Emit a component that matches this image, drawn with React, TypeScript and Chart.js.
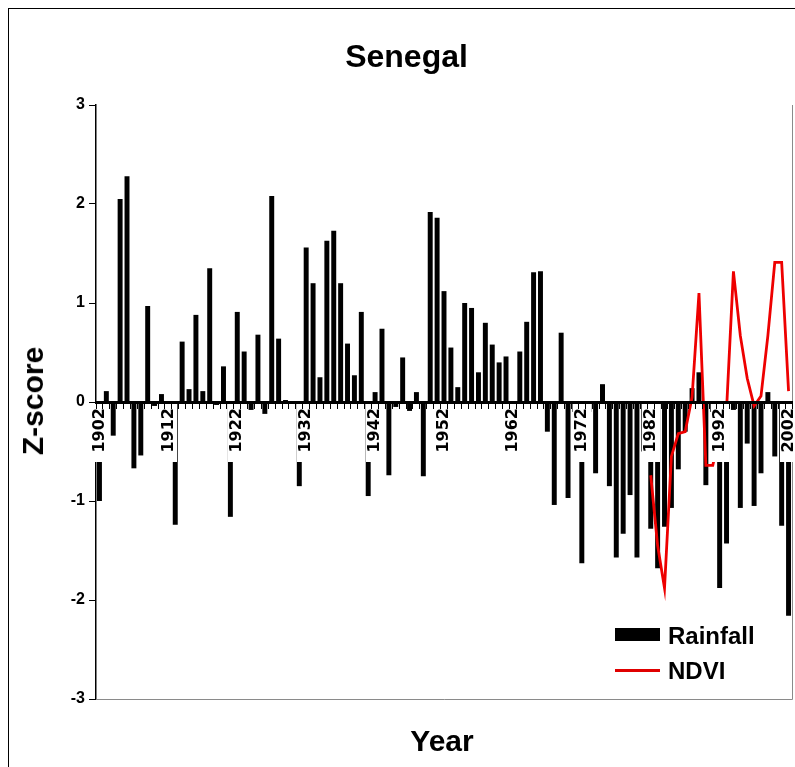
import React, { useEffect, useRef } from 'react';
import { Chart, registerables } from 'chart.js';

Chart.register(...registerables);

const years = [
  '1902','1903','1904','1905','1906','1907','1908','1909','1910','1911',
  '1912','1913','1914','1915','1916','1917','1918','1919','1920','1921',
  '1922','1923','1924','1925','1926','1927','1928','1929','1930','1931',
  '1932','1933','1934','1935','1936','1937','1938','1939','1940','1941',
  '1942','1943','1944','1945','1946','1947','1948','1949','1950','1951',
  '1952','1953','1954','1955','1956','1957','1958','1959','1960','1961',
  '1962','1963','1964','1965','1966','1967','1968','1969','1970','1971',
  '1972','1973','1974','1975','1976','1977','1978','1979','1980','1981',
  '1982','1983','1984','1985','1986','1987','1988','1989','1990','1991',
  '1992','1993','1994','1995','1996','1997','1998','1999','2000','2001',
  '2002'
];

// Rainfall z-score, 1902–2002
const rainfall = [
  -1.00, 0.11, -0.34, 2.05, 2.28, -0.67, -0.54, 0.97, -0.04, 0.08,
  -0.12, -1.24, 0.61, 0.13, 0.88, 0.11, 1.35, -0.03, 0.36, -1.16,
  0.91, 0.51, -0.08, 0.68, -0.12, 2.08, 0.64, 0.02, -0.02, -0.85,
  1.56, 1.20, 0.25, 1.63, 1.73, 1.20, 0.59, 0.27, 0.91, -0.95,
  0.10, 0.74, -0.74, -0.05, 0.45, -0.09, 0.10, -0.75, 1.92, 1.86,
  1.12, 0.55, 0.15, 1.00, 0.95, 0.30, 0.80, 0.58, 0.40, 0.46,
  -0.12, 0.51, 0.81, 1.31, 1.32, -0.30, -1.04, 0.70, -0.97, -0.10,
  -1.63, -0.10, -0.72, 0.18, -0.85, -1.57, -1.33, -0.94, -1.57, -0.50,
  -1.28, -1.68, -1.26, -1.07, -0.68, -0.30, 0.14, 0.30, -0.84, -0.10,
  -1.88, -1.43, -0.08, -1.07, -0.42, -1.05, -0.72, 0.10, -0.55, -1.25,
  -2.16
];

// NDVI z-score, 1982–2002 (no data before)
const ndviYears = [
  '1982','1983','1984','1985','1986','1987','1988','1989','1990','1991',
  '1992','1993','1994','1995','1996','1997','1998','1999','2000','2001','2002'
];
const ndviValues = [
  -0.74, -1.45, -1.88, -0.55, -0.32, -0.30, 0.05, 1.10, -0.64, -0.64,
  -0.35, -0.08, 1.32, 0.67, 0.24, -0.04, 0.06, 0.67, 1.41, 1.41, 0.11
];

const yMin = -3;
const yMax = 3;
const yStep = 1;
const labelEvery = 10;

const FONT = '"Liberation Sans", Arial, Helvetica, sans-serif';

export default function App() {
  const ref = useRef<HTMLCanvasElement>(null);

  useEffect(() => {
    const ndvi = years.map((y) => {
      const k = ndviYears.indexOf(y);
      return k >= 0 ? ndviValues[k] : null;
    });

    const plotFrame = {
      id: 'plotFrame',
      beforeDatasetsDraw(chart: any) {
        const { ctx, chartArea: a } = chart;
        ctx.save();
        ctx.strokeStyle = '#8a8a8a';
        ctx.lineWidth = 1;
        ctx.beginPath();
        ctx.moveTo(a.left, Math.round(a.bottom) + 0.5);
        ctx.lineTo(Math.round(a.right) + 0.5, Math.round(a.bottom) + 0.5);
        ctx.lineTo(Math.round(a.right) + 0.5, a.top);
        ctx.stroke();
        ctx.restore();
      },
    };

    const labelMask = {
      id: 'labelMask',
      afterDatasetsDraw(chart: any) {
        const { ctx } = chart;
        const xs = chart.scales.x;
        const ys = chart.scales.y;
        const y0 = ys.getPixelForValue(0);
        ctx.save();
        ctx.fillStyle = '#ffffff';
        for (let i = 0; i < years.length; i += labelEvery) {
          const px = Math.round(xs.getPixelForTick(i));
          ctx.fillRect(px - 9, Math.round(y0) + 2, 18, 58);
        }
        ctx.restore();
      },
    };

    const chart = new Chart(ref.current as HTMLCanvasElement, {
      type: 'bar',
      data: {
        labels: years,
        datasets: [
          {
            type: 'line',
            label: 'NDVI',
            data: ndvi,
            borderColor: '#ee0000',
            backgroundColor: '#ee0000',
            borderWidth: 2.8,
            pointRadius: 0,
            tension: 0,
            spanGaps: false,
            order: 0,
          } as any,
          {
            type: 'bar',
            label: 'Rainfall',
            data: rainfall,
            backgroundColor: '#000000',
            borderWidth: 0,
            categoryPercentage: 1,
            barPercentage: 0.72,
            order: 1,
          },
        ],
      },
      options: {
        animation: false,
        responsive: false,
        events: [],
        layout: { padding: { left: 0, top: 96, right: 3, bottom: 68 } },
        plugins: {
          legend: { display: false },
          title: { display: false },
          tooltip: { enabled: false },
        },
        scales: {
          x: {
            position: { y: 0 } as any,
            afterFit: (s: any) => {
              s.paddingLeft = 0;
              s.paddingRight = 0;
            },
            grid: {
              drawOnChartArea: false,
              drawTicks: true,
              tickLength: 5,
              color: '#000',
              lineWidth: 1,
              offset: true,
              z: 1,
            },
            border: { display: true, color: '#000', width: 3, z: 1 },
            ticks: {
              z: 1,
              autoSkip: false,
              minRotation: 90,
              maxRotation: 90,
              padding: 1,
              color: '#000',
              font: { family: '"DejaVu Sans", sans-serif', weight: 'bold', size: 16 },
              callback: (_v: any, i: number) => (i % labelEvery === 0 ? years[i] : ''),
            },
          } as any,
          y: {
            min: yMin,
            max: yMax,
            afterFit: (s: any) => {
              s.width = 87;
            },
            grid: { drawOnChartArea: false, drawTicks: true, tickLength: 7, color: '#000' },
            border: { display: true, color: '#000', width: 1.5 },
            ticks: {
              stepSize: yStep,
              padding: 4,
              color: '#000',
              font: { family: FONT, weight: 'bold', size: 16 },
            },
          },
        },
      },
      plugins: [plotFrame, labelMask],
    });
    return () => chart.destroy();
  }, []);

  const txt = (fs: number): React.CSSProperties => ({
    position: 'absolute',
    fontFamily: FONT,
    fontWeight: 'bold',
    fontSize: fs,
    lineHeight: `${fs}px`,
    whiteSpace: 'nowrap',
    color: '#000',
  });

  return (
    <div
      style={{
        position: 'fixed',
        left: 0,
        top: 0,
        width: 795,
        height: 767,
        overflow: 'hidden',
        background: '#fff',
      }}
    >
      <div
        style={{
          position: 'absolute',
          left: 8,
          top: 8,
          width: 900,
          height: 900,
          borderLeft: '1px solid #000',
          borderTop: '1px solid #000',
        }}
      />
      <canvas
        ref={ref}
        width={786}
        height={758}
        style={{ position: 'absolute', left: 9, top: 9, width: 786, height: 758 }}
      />
      <div style={{ ...txt(32), left: 406.5, top: 39.8, transform: 'translateX(-50%)' }}>Senegal</div>
      <div style={{ ...txt(30), left: 442, top: 726.3, transform: 'translateX(-50%)' }}>Year</div>
      <div
        style={{
          ...txt(30),
          left: 33,
          top: 401,
          transform: 'translate(-50%, -50%) rotate(-90deg)',
        }}
      >
        Z-score
      </div>
      <div style={{ position: 'absolute', left: 615, top: 628, width: 45, height: 13, background: '#000' }} />
      <div style={{ ...txt(24), left: 668, top: 624.2 }}>Rainfall</div>
      <div style={{ position: 'absolute', left: 615, top: 668.5, width: 45, height: 3, background: '#e00000' }} />
      <div style={{ ...txt(24), left: 668, top: 658.7 }}>NDVI</div>
    </div>
  );
}
